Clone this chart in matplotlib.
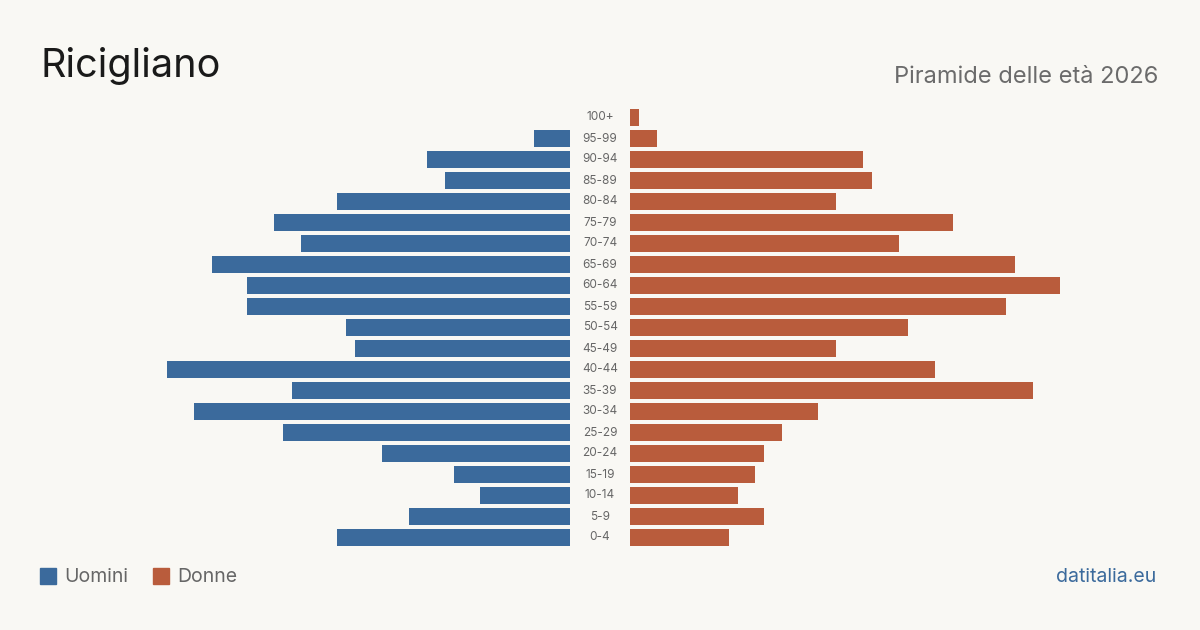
import matplotlib.pyplot as plt
import numpy as np

plt.rcParams['font.family'] = ['Inter', 'DejaVu Sans']

# 数据：年龄组与人数
age_groups = ['0-4', '5-9', '10-14', '15-19', '20-24', '25-29', '30-34', '35-39',
              '40-44', '45-49', '50-54', '55-59', '60-64', '65-69', '70-74', '75-79',
              '80-84', '85-89', '90-94', '95-99', '100+']
uomini = [26, 18, 10, 13, 21, 32, 42, 31, 45, 24, 25, 36, 36, 40, 30, 33, 26, 14, 16, 4, 0]
donne = [11, 15, 12, 14, 15, 17, 21, 45, 34, 23, 31, 42, 48, 43, 30, 36, 23, 27, 26, 3, 1]

blue = '#3b6a9c'
orange = '#b95c3c'
bg = '#f9f8f4'
W, H = 1200, 630

fig = plt.figure(figsize=(12, 6.3), dpi=100)
fig.patch.set_facecolor(bg)

px = 8.96  # 每单位像素
span = 50
top, bottom = 107, 548
axL = fig.add_axes([(570 - span * px) / W, 1 - bottom / H, span * px / W, (bottom - top) / H])
axR = fig.add_axes([630 / W, 1 - bottom / H, span * px / W, (bottom - top) / H])

y = np.arange(len(age_groups))
axL.barh(y, uomini, height=0.81, color=blue)
axR.barh(y, donne, height=0.81, color=orange)
axL.set_xlim(span, 0)
axR.set_xlim(0, span)
for ax in (axL, axR):
    ax.set_ylim(-0.5, len(age_groups) - 0.5)
    ax.axis('off')

for i, g in enumerate(age_groups):
    yy = 1 - (bottom - (i + 0.5) * 21) / H
    fig.text(600 / W, yy, g, ha='center', va='center', fontsize=8.5, color='#666666')

fig.text(40 / W, 1 - 66 / H, 'Ricigliano', fontsize=28.5, color='#1a1a1a', va='center', ha='left')
fig.text(1158 / W, 1 - 77 / H, 'Piramide delle età 2026', fontsize=17, color='#6b6b6b',
         va='center', ha='right')

# 图例
fig.patches.append(plt.Rectangle((40 / W, 1 - 584 / H), 16 / W, 16 / H, color=blue,
                                 transform=fig.transFigure, figure=fig))
fig.text(64 / W, 1 - 577 / H, 'Uomini', fontsize=14, color='#666666', va='center')
fig.patches.append(plt.Rectangle((153 / W, 1 - 584 / H), 16 / W, 16 / H, color=orange,
                                 transform=fig.transFigure, figure=fig))
fig.text(177 / W, 1 - 577 / H, 'Donne', fontsize=14, color='#666666', va='center')

fig.text(1156 / W, 1 - 577 / H, 'datitalia.eu', fontsize=14, color=blue, va='center', ha='right')

fig.savefig('out.png', dpi=100, facecolor=bg)
